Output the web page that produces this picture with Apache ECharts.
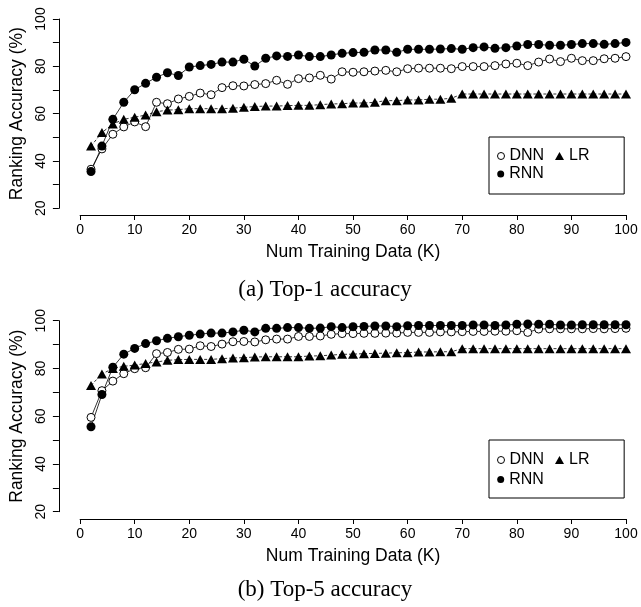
<!DOCTYPE html>
<html><head><meta charset="utf-8">
<script src="https://cdn.jsdelivr.net/npm/echarts@6/dist/echarts.min.js"></script>
<style>html,body{margin:0;padding:0;background:#fff}#c{width:641px;height:607px}</style>
</head><body><div id="c"></div>
<script>
// ---- data ----
const trainingK = [2,4,6,8,10,12,14,16,18,20,22,24,26,28,30,32,34,36,38,40,42,44,46,48,50,52,54,56,58,60,62,64,66,68,70,72,74,76,78,80,82,84,86,88,90,92,94,96,98,100];
const top1DNN = [36.5,45.1,51.3,54.4,56.5,54.5,64.8,64.2,66.2,67.3,68.7,68.0,71.0,71.8,71.7,72.3,72.7,74.1,72.4,74.8,75.1,76.2,74.6,77.7,77.5,77.7,78.0,78.3,77.7,79.0,79.2,79.2,79.2,79.0,79.9,79.9,79.9,80.3,81.0,81.3,80.3,81.8,83.1,82.0,83.4,82.4,82.4,83.2,83.4,84.1];
const top1RNN = [35.5,46.3,57.6,64.8,70.1,72.8,75.4,77.3,76.1,79.7,80.3,80.8,81.8,81.8,83.0,80.1,83.4,84.4,84.2,84.8,84.1,84.1,84.8,85.5,85.8,85.9,86.9,86.9,85.9,87.2,87.2,87.2,87.3,87.5,87.2,87.9,88.2,87.6,87.9,88.6,89.2,89.2,88.9,88.9,89.2,89.6,89.6,89.3,89.6,90.1];
const top1LR  = [46.3,52.0,55.6,57.6,58.5,59.4,60.8,61.5,61.7,62.1,62.1,62.1,62.1,62.3,62.7,63.0,63.2,63.2,63.4,63.5,63.5,63.8,64.1,64.2,64.5,64.5,64.8,65.5,65.5,65.8,65.8,66.1,66.1,66.5,68.3,68.3,68.3,68.3,68.3,68.3,68.3,68.3,68.3,68.3,68.3,68.3,68.3,68.3,68.3,68.3];
const top5DNN = [59.5,70.7,74.7,77.8,79.9,80.3,86.2,86.7,88.0,88.1,89.5,89.2,90.2,91.2,91.3,91.1,92.0,92.3,92.3,93.4,93.4,93.6,94.3,94.6,94.6,94.7,94.7,94.8,94.8,95.1,95.1,95.1,95.3,95.3,95.4,95.5,95.5,95.6,95.6,95.8,95.1,96.5,96.6,96.6,96.6,96.6,96.7,96.6,96.7,96.8];
const top5RNN = [55.6,69.1,80.5,86.0,88.4,90.4,91.6,92.6,93.3,93.9,94.4,94.8,94.8,95.3,96.0,95.3,96.8,96.8,97.1,97.1,96.8,96.9,97.5,97.1,97.5,97.6,97.8,97.8,97.5,97.9,98.0,98.0,98.0,98.0,98.0,98.2,98.2,98.0,98.2,98.5,98.6,98.5,98.5,98.2,98.2,98.3,98.3,98.3,98.3,98.3];
const top5LR  = [72.9,77.7,80.0,80.9,81.4,82.1,82.7,83.4,83.7,83.8,83.8,83.8,84.1,84.4,84.5,84.8,84.9,84.9,84.9,84.9,85.2,85.3,85.6,85.9,86.0,86.2,86.3,86.4,86.6,86.6,86.9,86.9,87.0,87.0,88.3,88.3,88.3,88.3,88.3,88.3,88.3,88.3,88.3,88.3,88.3,88.3,88.3,88.3,88.3,88.3];
const seriesNames = ['DNN','RNN','LR'];
const captions = ['(a) Top-1 accuracy','(b) Top-5 accuracy'];
const xAxisTitle = 'Num Training Data (K)';
const yAxisTitle = 'Ranking Accuracy (%)';

// ---- chart ----
const SANS = 'Liberation Sans, Arial, Helvetica, sans-serif';
const SERIF = 'Liberation Serif, Times New Roman, serif';
const chart = echarts.init(document.getElementById('c'), null, {renderer:'canvas'});
const pairs = arr => trainingK.map((k,i)=>[k, arr[i]]);

const grids = [
  {left:78.5, right:15, top:19, height:189.3},
  {left:78.5, right:15, top:320.7, height:191}
];
function xAx(g, off){
  return {type:'value', gridIndex:g, min:0, max:100, interval:10, offset:off,
    axisLine:{show:true, onZero:false, lineStyle:{color:'#000', width:1}},
    axisTick:{show:true, length:5, lineStyle:{color:'#000', width:1}},
    axisLabel:{color:'#000', fontSize:14, fontFamily:SANS, margin:8},
    splitLine:{show:false},
    name:xAxisTitle, nameLocation:'middle', nameGap:28.5,
    nameTextStyle:{color:'#000', fontSize:17.5, fontFamily:SANS}};
}
function yAx(g){
  return {type:'value', gridIndex:g, min:20, max:100, interval:10, offset:21.2,
    axisLine:{show:true, onZero:false, lineStyle:{color:'#000', width:1}},
    axisTick:{show:true, length:6, lineStyle:{color:'#000', width:1}},
    axisLabel:{color:'#000', fontSize:14, fontFamily:SANS, margin:11, rotate:90,
      formatter: v => (v % 20 === 0 ? String(v) : '')},
    splitLine:{show:false},
    name:yAxisTitle, nameLocation:'middle', nameGap:29,
    nameTextStyle:{color:'#000', fontSize:17.5, fontFamily:SANS}};
}
const styleFor = {
  DNN:{symbol:'circle', symbolSize:8, itemStyle:{color:'#fff', borderColor:'#000', borderWidth:1}, line:'solid'},
  RNN:{symbol:'circle', symbolSize:9, itemStyle:{color:'#000', borderWidth:0}, line:'solid'},
  LR:{symbol:'triangle', symbolSize:[10,9], itemStyle:{color:'#000', borderWidth:0}, line:[3,2]}
};
function mk(name, g, arr){
  const s = styleFor[name];
  return {type:'line', name:name, xAxisIndex:g, yAxisIndex:g, data:pairs(arr),
    symbol:s.symbol, symbolSize:s.symbolSize, itemStyle:s.itemStyle, showSymbol:true,
    lineStyle:{color:'#000', width:0.8, type:s.line}, emphasis:{disabled:true}, animation:false};
}
const series = [
  mk('DNN',0,top1DNN), mk('RNN',0,top1RNN), mk('LR',0,top1LR),
  mk('DNN',1,top5DNN), mk('RNN',1,top5RNN), mk('LR',1,top5LR)
];
const legTxt = {fontSize:16, fontFamily:SANS, color:'#000', lineHeight:16};
function legendSet(boxTop, boxH, row1, row2){
  const pt = row1 - 8 - boxTop;
  return [
    {left:489, top:boxTop, padding:[pt, 80, boxH - pt - 16, 8], borderColor:'#000', borderWidth:1,
     itemWidth:7, itemHeight:7, itemGap:0, selectedMode:false, textStyle:legTxt,
     data:[{name:seriesNames[0], icon:'circle', itemStyle:{color:'#fff', borderColor:'#000', borderWidth:1}}]},
    {left:555, top:row1 - 8, padding:0, itemWidth:9, itemHeight:8, selectedMode:false, textStyle:legTxt,
     data:[{name:seriesNames[2], icon:'triangle', itemStyle:{color:'#000', borderWidth:0}}]},
    {left:497.2, top:row2 - 8, padding:0, itemWidth:7, itemHeight:7, selectedMode:false, textStyle:legTxt,
     data:[{name:seriesNames[1], icon:'circle', itemStyle:{color:'#000', borderWidth:0}}]}
  ];
}
const option = {
  backgroundColor:'#fff',
  animation:false,
  title:[
    {text:captions[0], left:325, top:278.5, padding:0, textAlign:'center',
     textStyle:{fontFamily:SERIF, fontSize:23, fontWeight:'normal', color:'#000'}},
    {text:captions[1], left:325, top:578.5, padding:0, textAlign:'center',
     textStyle:{fontFamily:SERIF, fontSize:23, fontWeight:'normal', color:'#000'}}
  ],
  grid:grids,
  xAxis:[xAx(0,6.7), xAx(1,7.3)],
  yAxis:[yAx(0), yAx(1)],
  legend:[].concat(legendSet(137,57,156,174), legendSet(440,58,460,479.5)),
  series:series
};
chart.setOption(option);
</script></body></html>
